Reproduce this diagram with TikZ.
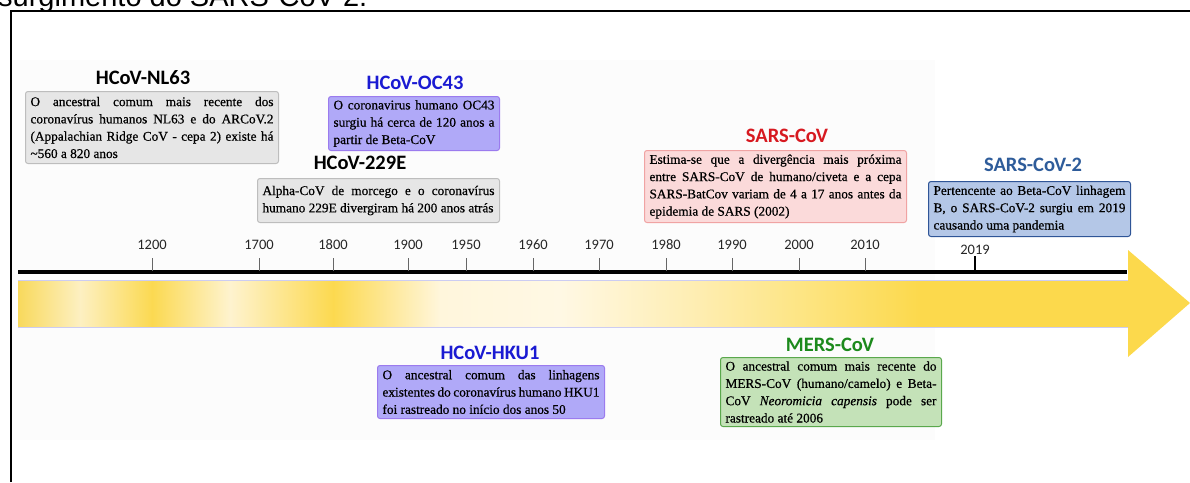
\documentclass[tikz,border=0pt]{standalone}
\usepackage{fontspec}
\setmainfont{Liberation Serif}[FakeBold=0.6]
\newfontfamily\titlefont{Carlito}
\newfontfamily\capfont{Liberation Sans}
\definecolor{grayfill}{HTML}{E6E6E6}
\definecolor{grayline}{HTML}{BDBDBD}
\definecolor{lavfill}{HTML}{B0A9F8}
\definecolor{lavline}{HTML}{9B7BEE}
\definecolor{pinkfill}{HTML}{FBDADA}
\definecolor{pinkline}{HTML}{F0A3A3}
\definecolor{bluefill}{HTML}{B4C7E7}
\definecolor{blueline}{HTML}{2F5597}
\definecolor{greenfill}{HTML}{C4E2B8}
\definecolor{greenline}{HTML}{5AA84C}
\definecolor{tblue}{HTML}{1A1AD2}
\definecolor{tred}{HTML}{D71920}
\definecolor{tnavy}{HTML}{2E5C9A}
\definecolor{tgreen}{HTML}{1C8A1C}
\definecolor{ya}{HTML}{F8D95C}
\definecolor{yb}{HTML}{FDF0C2}
\definecolor{yc}{HTML}{FBD951}
\definecolor{yd}{HTML}{FEF3CF}
\definecolor{ye}{HTML}{FCD94F}
\definecolor{yf}{HTML}{FFF6DC}
\definecolor{yg}{HTML}{FFF8E4}
\definecolor{yh}{HTML}{FEEDB0}
\definecolor{yi}{HTML}{FDE584}
\definecolor{yj}{HTML}{FCD94C}
\begin{document}
\begin{tikzpicture}[x=1pt,y=-1pt,
  title/.style={font=\titlefont\bfseries\fontsize{20.5}{24}\selectfont, inner sep=0pt, anchor=center},
  infobox/.style={rounded corners=2.5pt, line width=1pt, align=justify, inner xsep=5pt, inner ysep=1pt,
    font=\fontsize{13.3}{17.3}\selectfont, anchor=north west},
  yearlab/.style={font=\titlefont\fontsize{14.5}{16}\selectfont, text=black!85, inner sep=0pt, anchor=center},
  tickline/.style={draw=black!60, line width=1pt},
]
\useasboundingbox (0,0) rectangle (1190,482);
% faint background
\fill[black!1.2] (12,60) rectangle (935,440);
% frame
\draw[line width=2pt] (11,482) -- (11,11) -- (1190,11);
% cut-off caption
\node[anchor=base west, font=\capfont\fontsize{29}{32}\selectfont, inner sep=0pt] (cap) at (-2,6) {surgimento do SARS-CoV-2.};

% band gradient
\foreach \xa/\xb/\ca/\cb in {18/80/ya/yb, 80/152/yb/yc, 152/230/yc/yd, 230/333/yd/ye, 333/440/ye/yf, 440/560/yf/yg, 560/700/yg/yh, 700/800/yh/yi, 800/920/yi/yj}
  \shade[left color=\ca, right color=\cb] (\xa,280) rectangle (\xb+0.5,327);
\fill[yj] (920,280) rectangle (1129,327);
\fill[yj] (1128,250) -- (1190,303) -- (1128,357) -- cycle;
\draw[draw=black!25!blue!20, line width=0.8pt] (18,280) -- (1128,280) (18,327) -- (1128,327);
% axis
\draw[line width=4pt] (18,272) -- (1127,272);

% ticks and years
\foreach \x/\yr in {152/1200, 259/1700, 333/1800, 408/1900, 466/1950, 533/1960, 599/1970, 666/1980, 732/1990, 799/2000, 865/2010}{
  \node[yearlab] (y\yr) at (\x,245) {\yr};
  \draw[tickline] (\x,258) -- (\x,271);
}
\node[yearlab] (y2019) at (975,250) {2019};
\draw[line width=1.2pt] (975,256) -- (975,271);

% HCoV-NL63
\node[title] (tnl63) at (143,78) {HCoV-NL63};
\node[infobox, fill=grayfill, draw=grayline, text width=243pt, minimum height=72pt] (bnl63) at (25,91)
 {O ancestral comum mais recente dos\linebreak coronavírus humanos NL63 e do ARCoV.2\linebreak (Appalachian Ridge CoV - cepa 2) existe há\linebreak \textasciitilde560 a 820 anos};

% HCoV-OC43
\node[title, text=tblue] (toc43) at (415,83) {HCoV-OC43};
\node[infobox, fill=lavfill, draw=lavline, text width=161pt, minimum height=54pt] (boc43) at (328,96)
 {O coronavirus humano OC43\linebreak surgiu há cerca de 120 anos a\linebreak partir de Beta-CoV};

% HCoV-229E
\node[title] (t229e) at (360,163) {HCoV-229E};
\node[infobox, fill=grayfill, draw=grayline, text width=232pt, minimum height=44pt] (b229e) at (257,178)
 {Alpha-CoV de morcego e o coronavírus\linebreak humano 229E divergiram há 200 anos atrás};

% SARS-CoV
\node[title, text=tred] (tsars) at (787,136) {SARS-CoV};
\node[infobox, fill=pinkfill, draw=pinkline, text width=252pt, minimum height=72pt] (bsars) at (644,150)
 {Estima-se que a divergência mais próxima\linebreak entre SARS-CoV de humano/civeta e a cepa\linebreak SARS-BatCov variam de 4 a 17 anos antes da\linebreak epidemia de SARS (2002)};

% SARS-CoV-2
\node[title, text=tnavy] (tsars2) at (1033,165) {SARS-CoV-2};
\node[infobox, fill=bluefill, draw=blueline, text width=192pt, minimum height=55pt] (bsars2) at (928,181)
 {Pertencente ao Beta-CoV linhagem\linebreak B, o SARS-CoV-2 surgiu em 2019\linebreak causando uma pandemia};

% HCoV-HKU1
\node[title, text=tblue] (thku1) at (490,353) {HCoV-HKU1};
\node[infobox, fill=lavfill, draw=lavline, text width=217pt, minimum height=53pt] (bhku1) at (377,365)
 {O ancestral comum das linhagens\linebreak existentes do coronavírus humano HKU1\linebreak foi rastreado no início dos anos 50};

% MERS-CoV
\node[title, text=tgreen] (tmers) at (830,345) {MERS-CoV};
\node[infobox, fill=greenfill, draw=greenline, text width=211pt, minimum height=69pt] (bmers) at (720,357)
 {O ancestral comum mais recente do\linebreak MERS-CoV (humano/camelo) e Beta-\linebreak CoV \textit{Neoromicia capensis} pode ser\linebreak rastreado até 2006};
\end{tikzpicture}
\end{document}
